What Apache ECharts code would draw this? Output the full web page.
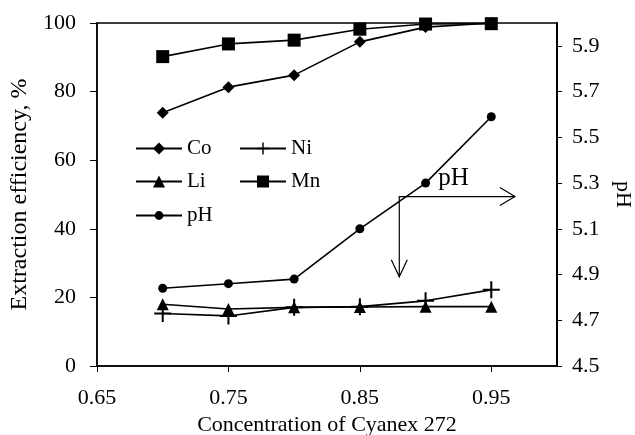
<!DOCTYPE html>
<html>
<head>
<meta charset="utf-8">
<script src="https://cdn.jsdelivr.net/npm/echarts@6/dist/echarts.min.js"></script>
<style>
  html, body { margin: 0; padding: 0; background: #fff; }
  #chart { width: 635px; height: 435px; }
</style>
</head>
<body>
<div id="chart"></div>
<script>
// 数据
const conc = [0.7, 0.75, 0.8, 0.85, 0.9, 0.95]
const co = [73.8, 81.3, 84.8, 94.5, 98.8, 100]
const ni = [15.3, 14.6, 17.1, 17.3, 19.0, 22.2]
const li = [18.0, 16.6, 17.1, 17.2, 17.3, 17.3]
const mn = [90.2, 93.9, 95.0, 98.2, 99.7, 99.8]
const ph = [4.84, 4.86, 4.88, 5.10, 5.30, 5.59]
const xTicks = [0.65, 0.75, 0.85, 0.95]
const phTicks = [4.5, 4.7, 4.9, 5.1, 5.3, 5.5, 5.7, 5.9]

const serif = '"Liberation Serif", "DejaVu Serif", serif'
const plusPath = 'path://M4.4,0 H5.6 V4.4 H10 V5.6 H5.6 V10 H4.4 V5.6 H0 V4.4 H4.4 Z'

const pairs = arr => conc.map((x, i) => [x, arr[i]])

const chart = echarts.init(document.getElementById('chart'), null, { renderer: 'canvas' })

const lineSeries = (name, data, symbol, size, yIdx) => ({
  name, type: 'line', data: pairs(data), yAxisIndex: yIdx || 0,
  symbol, symbolSize: size,
  lineStyle: { color: '#000', width: 1.6 },
  itemStyle: { color: '#000', borderWidth: 0 },
  emphasis: { disabled: true },
  z: 3
})

// 图例：每项单独定位
const legendItem = (name, left, top, h) => ({
  data: [name], left, top, orient: 'horizontal', padding: 0,
  itemWidth: 46, itemHeight: h || 15, itemGap: 5,
  textStyle: { fontFamily: serif, fontSize: 21, color: '#000' },
  selectedMode: false
})

const axisText = { fontFamily: serif, fontSize: 22, color: '#000' }
const titleText = { fontFamily: serif, fontSize: 22, color: '#000' }

const option = {
  animation: false,
  grid: {
    left: 97, right: 78, top: 23, bottom: 69, outerBoundsMode: 'none',
    show: true, borderColor: '#000', borderWidth: 1.5
  },
  legend: [
    legendItem('Co', 135, 138),
    legendItem('Ni', 239, 138),
    legendItem('Li', 135, 171),
    legendItem('Mn', 239, 171),
    legendItem('pH', 135, 205, 11)
  ],
  xAxis: {
    type: 'value', min: 0.65, max: 1.0, interval: 0.05,
    name: 'Concentration of Cyanex 272', nameLocation: 'middle', nameGap: 44,
    nameTextStyle: titleText,
    axisLine: { lineStyle: { color: '#000', width: 1.5 } },
    axisTick: { inside: false, length: 6, customValues: xTicks, lineStyle: { color: '#000' } },
    axisLabel: { ...axisText, margin: 21, customValues: xTicks, formatter: v => v.toFixed(2) },
    splitLine: { show: false }
  },
  yAxis: [
    {
      type: 'value', min: 0, max: 100, interval: 20, position: 'left',
      name: 'Extraction efficiency, %', nameLocation: 'middle', nameGap: 60,
      nameTextStyle: { ...titleText, fontSize: 24 },
      axisLine: { show: true, lineStyle: { color: '#000', width: 1.5 } },
      axisTick: { show: true, length: 7, lineStyle: { color: '#000' } },
      axisLabel: { ...axisText, margin: 21 },
      splitLine: { show: false }
    },
    {
      type: 'value', min: 4.5, max: 6.0, interval: 0.1, position: 'right',
      name: 'pH', nameLocation: 'middle', nameGap: 55, nameRotate: -90,
      nameTextStyle: titleText,
      axisLine: { show: true, lineStyle: { color: '#000', width: 2 } },
      axisTick: { show: true, length: 5, customValues: phTicks, lineStyle: { color: '#000' } },
      axisLabel: { ...axisText, margin: 15, customValues: phTicks, formatter: v => v.toFixed(1) },
      splitLine: { show: false }
    }
  ],
  series: [
    lineSeries('Co', co, 'diamond', 12),
    lineSeries('Ni', ni, plusPath, 17),
    lineSeries('Li', li, 'triangle', 12),
    lineSeries('Mn', mn, 'rect', 13),
    lineSeries('pH', ph, 'circle', 9, 1)
  ]
}

chart.setOption(option)

// 箭头注释
const p = (x, y) => chart.convertToPixel({ xAxisIndex: 0, yAxisIndex: 0 }, [x, y])
const start = p(0.88, 49.4)
const endH = p(0.968, 49.4)
const endV = p(0.88, 26)
const head = 15, wing = 9
const lineStyle = { stroke: '#000', lineWidth: 1.2, fill: null }
chart.setOption({
  graphic: [
    { type: 'polyline', shape: { points: [endV, start, endH] }, style: lineStyle, z: 10 },
    { type: 'polyline', shape: { points: [[endH[0] - head, endH[1] - wing], endH, [endH[0] - head, endH[1] + wing]] }, style: lineStyle, z: 10 },
    { type: 'polyline', shape: { points: [[endV[0] - 8, endV[1] - 17], endV, [endV[0] + 8, endV[1] - 17]] }, style: lineStyle, z: 10 },
    { type: 'text', left: start[0] + 39, top: start[1] - 31, style: { text: 'pH', font: '25px ' + serif, fill: '#000' }, z: 10 }
  ]
})
</script>
</body>
</html>
